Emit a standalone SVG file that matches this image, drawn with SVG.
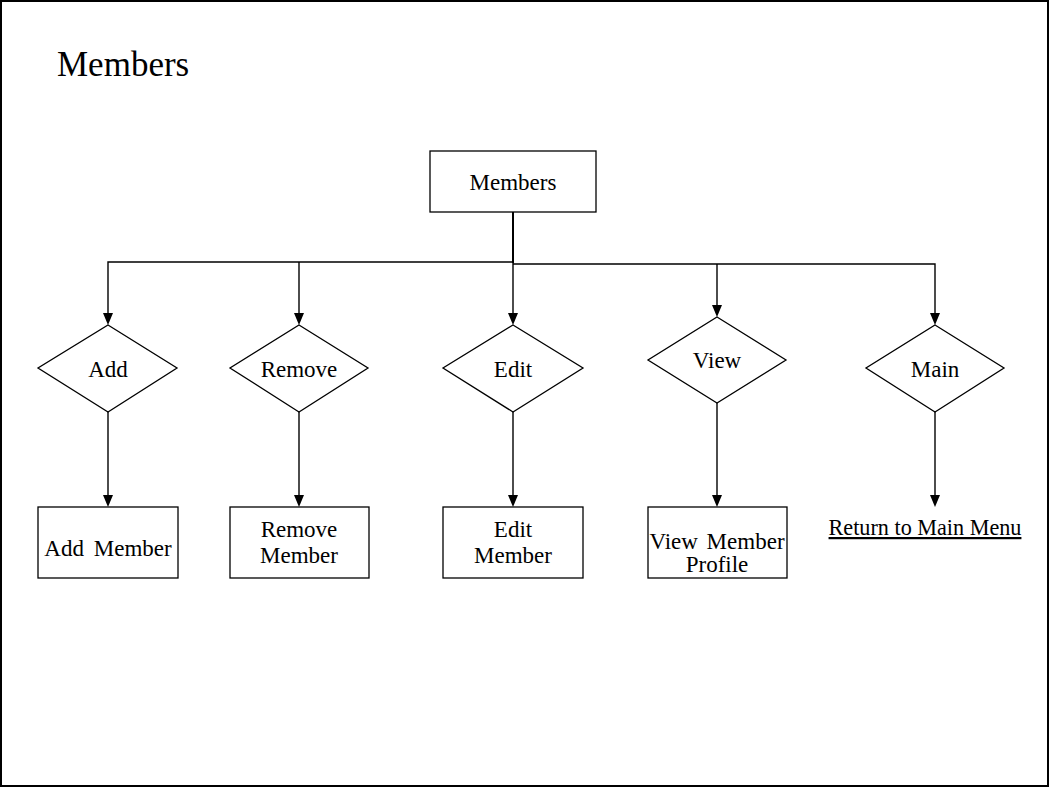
<svg xmlns="http://www.w3.org/2000/svg" width="1050" height="788" viewBox="0 0 1050 788">
<style>
.t{font-family:"Liberation Serif","Times New Roman",serif;font-size:23px;fill:#000;text-anchor:middle}
.shape{fill:#fff;stroke:#000;stroke-width:1.3}
.c{fill:none;stroke:#000;stroke-width:1.4}
.trunk{fill:none;stroke:#000;stroke-width:2}
</style>
<rect x="1" y="1" width="1047" height="785" fill="#fff" stroke="#000" stroke-width="2"/>
<text x="57" y="76" font-family="Liberation Serif, serif" font-size="35">Members</text>

<g id="connectors">
<path class="trunk" d="M513,212 V263"/>
<path class="c" d="M513,262 H108 V313"/>
<path class="c" d="M299,262 V313"/>
<path class="c" d="M513,264 H935 V313"/>
<path class="c" d="M717,264 V305"/>
<path class="c" d="M513,263 V313"/>
<polygon points="103,313 113,313 108,325"/>
<polygon points="294,313 304,313 299,325"/>
<polygon points="508,313 518,313 513,325"/>
<polygon points="712,305 722,305 717,317"/>
<polygon points="930,313 940,313 935,325"/>
<path class="c" d="M108,412 V495"/>
<path class="c" d="M299,412 V495"/>
<path class="c" d="M513,412 V495"/>
<path class="c" d="M717,403 V495"/>
<path class="c" d="M935,412 V495"/>
<polygon points="103,495 113,495 108,507"/>
<polygon points="294,495 304,495 299,507"/>
<polygon points="508,495 518,495 513,507"/>
<polygon points="712,495 722,495 717,507"/>
<polygon points="930,495 940,495 935,507"/>
</g>

<g id="members">
<rect class="shape" x="430" y="151" width="166" height="61"/>
<text class="t" x="513" y="190">Members</text>
</g>

<g id="add">
<polygon class="shape" points="108,325 177,368 108,412 38,368"/>
<text class="t" x="108" y="377">Add</text>
</g>
<g id="remove">
<polygon class="shape" points="299,325 368,368 299,412 230,368"/>
<text class="t" x="299" y="377">Remove</text>
</g>
<g id="edit">
<polygon class="shape" points="513,325 583,368 513,412 443,368"/>
<text class="t" x="513" y="377">Edit</text>
</g>
<g id="view">
<polygon class="shape" points="717,317 786,360 717,403 648,360"/>
<text class="t" x="717" y="368">View</text>
</g>
<g id="main">
<polygon class="shape" points="935,325 1004,368 935,412 866,368"/>
<text class="t" x="935" y="377">Main</text>
</g>

<g id="add-member">
<rect class="shape" x="38" y="507" width="140" height="71"/>
<text class="t" x="108" y="556" word-spacing="4">Add Member</text>
</g>
<g id="remove-member">
<rect class="shape" x="230" y="507" width="139" height="71"/>
<text class="t" x="299" y="537">Remove</text>
<text class="t" x="299" y="563">Member</text>
</g>
<g id="edit-member">
<rect class="shape" x="443" y="507" width="140" height="71"/>
<text class="t" x="513" y="537">Edit</text>
<text class="t" x="513" y="563">Member</text>
</g>
<g id="view-member-profile">
<rect class="shape" x="648" y="507" width="139" height="71"/>
<text class="t" x="717" y="549" word-spacing="3">View Member</text>
<text class="t" x="717" y="572">Profile</text>
</g>
<g id="return-main">
<text class="t" x="925" y="535" font-size="22.2" style="font-size:22.2px" text-decoration="underline">Return to Main Menu</text>
</g>
</svg>
